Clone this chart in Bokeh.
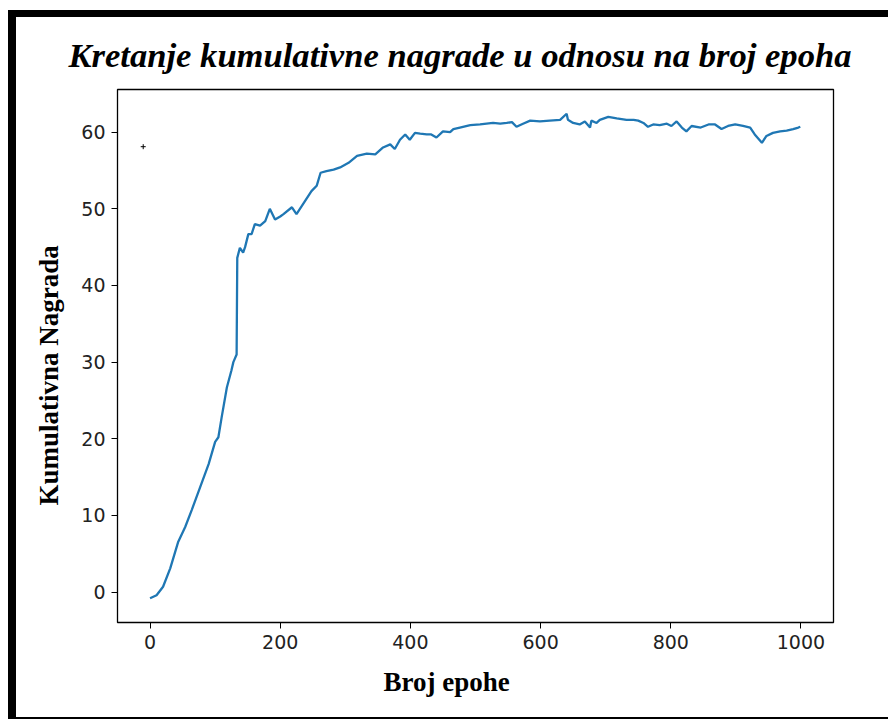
from bokeh.plotting import figure
from bokeh.embed import file_html
from bokeh.resources import INLINE
from bokeh.models import FixedTicker, Range1d, Div, Spacer, Title
from bokeh.layouts import column, row

epochs = [0, 10, 20, 31, 43, 54, 64, 77, 90, 100, 105, 110, 118, 125, 128, 133, 134, 138, 143, 146,
          151, 156, 161, 169, 177, 184, 192, 200, 205, 218, 225, 238, 248, 256, 262, 271, 282, 292,
          305, 318, 333, 346, 358, 369, 376, 384, 392, 399, 407, 415, 425, 432, 440, 450, 461, 466,
          476, 492, 507, 517, 527, 538, 548, 556, 563, 573, 584, 599, 614, 630, 640, 642, 650, 660,
          668, 676, 678, 686, 691, 704, 717, 732, 743, 750, 758, 765, 773, 783, 794, 801, 809, 817,
          824, 832, 846, 858, 868, 878, 888, 899, 911, 922, 929, 940, 947, 957, 968, 978, 988, 996, 999]
reward = [-0.8, -0.4, 0.7, 3.1, 6.5, 8.5, 10.7, 13.7, 16.7, 19.6, 20.2, 22.8, 26.7, 28.9, 30.0, 31.0,
          43.6, 44.9, 44.3, 45.0, 46.7, 46.7, 48.0, 47.8, 48.4, 50.0, 48.6, 49.0, 49.3, 50.2, 49.3,
          51.0, 52.3, 53.0, 54.7, 54.9, 55.1, 55.4, 56.0, 56.9, 57.2, 57.1, 58.0, 58.4, 57.8, 59.0,
          59.7, 59.0, 59.9, 59.8, 59.7, 59.7, 59.3, 60.1, 60.0, 60.4, 60.6, 60.9, 61.0, 61.1, 61.2,
          61.1, 61.2, 61.3, 60.7, 61.1, 61.5, 61.4, 61.5, 61.6, 62.4, 61.6, 61.2, 61.0, 61.4, 60.6,
          61.5, 61.2, 61.6, 62.0, 61.8, 61.6, 61.6, 61.5, 61.2, 60.7, 61.0, 60.9, 61.1, 60.8, 61.4,
          60.6, 60.1, 60.8, 60.6, 61.0, 61.0, 60.4, 60.8, 61.0, 60.8, 60.6, 59.7, 58.6, 59.5, 59.9,
          60.1, 60.2, 60.4, 60.6, 60.7]
marker_x = [-10.5]
marker_y = [58.1]
x_ticks = [0, 200, 400, 600, 800, 1000]
y_ticks = [0, 10, 20, 30, 40, 50, 60]

p = figure(width=872, height=700, x_range=Range1d(-50, 1050), y_range=Range1d(-3.96, 65.56),
           output_backend="svg", toolbar_location=None,
           min_border_left=101, min_border_right=55, min_border_top=72, min_border_bottom=95,
           title="Kretanje kumulativne nagrade u odnosu na broj epoha")

p.line(epochs, reward, line_color="#1f77b4", line_width=2.3)
p.scatter(marker_x, marker_y, marker="cross", size=5, line_color="black", line_width=1)

p.title.text_font = "Liberation Serif"
p.title.text_font_style = "bold italic"
p.title.text_font_size = "34.6px"
p.title.align = "left"
p.title.offset = -49
p.title.standoff = 31
p.title.text_color = "black"

p.xgrid.visible = False
p.ygrid.visible = False
p.outline_line_color = "black"
p.outline_line_width = 1.3
p.outline_line_alpha = 1

p.xaxis.ticker = FixedTicker(ticks=x_ticks)
p.yaxis.ticker = FixedTicker(ticks=y_ticks)
for ax in (p.xaxis[0], p.yaxis[0]):
    ax.axis_line_color = None
    ax.major_tick_line_color = "black"
    ax.major_tick_out = 6
    ax.major_tick_in = 0
    ax.minor_tick_line_color = None
    ax.major_label_text_font = "DejaVu Sans"
    ax.major_label_text_font_size = "19px"
    ax.major_label_text_color = "#222222"
    ax.major_label_standoff = 6

xlab = Title(text="Broj epohe", align="left", offset=266, standoff=27,
             text_font="Liberation Serif", text_font_style="bold", text_font_size="27px",
             text_color="black")
ylab = Title(text="Kumulativna Nagrada", align="left", offset=117, standoff=30,
             text_font="Liberation Serif", text_font_style="bold", text_font_size="27px",
             text_color="black")
p.add_layout(xlab, "below")
p.add_layout(ylab, "left")

black = {"background-color": "black"}
top_bar = Div(text="", width=880, height=7, margin=0, styles=black)
left_bar = Div(text="", width=8, height=700, margin=0, styles=black)
bottom_bar = Div(text="", width=880, height=2, margin=0, styles=black)
inner = column(Spacer(width=880, height=10, margin=0), top_bar,
               row(left_bar, p, spacing=0), bottom_bar, spacing=0)
layout = row(Spacer(width=8, height=719, margin=0), inner, spacing=0)

open("out.html", "w").write(file_html(layout, INLINE))
